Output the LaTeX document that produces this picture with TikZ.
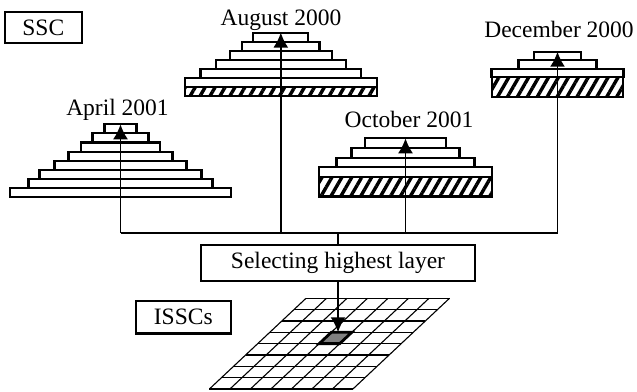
\documentclass[tikz,border=0pt]{standalone}
\usepackage{fontspec}
\setmainfont{Liberation Serif}
\usepackage{tikz}
\usetikzlibrary{arrows.meta,patterns.meta}
\tikzstyle{box} = [rectangle, draw, line width=1.1pt, inner sep=0pt, font=\fontsize{11.75}{14}\selectfont]
\tikzstyle{date} = [inner sep=0pt, anchor=base, font=\fontsize{11.75}{14}\selectfont]
\tikzstyle{layer} = [draw, line width=1.05pt]
\tikzstyle{hatch} = [layer, pattern={Lines[angle=60,distance=4.3pt,line width=1.7pt]}]
\tikzstyle{line} = [line width=0.95pt]
\tikzstyle{arrow} = [line, -{Latex[length=7.5pt,width=7.5pt]}]
\tikzstyle{grid} = [line width=0.55pt]

\begin{document}
\begin{tikzpicture}[x=0.5pt,y=-0.5pt]
\useasboundingbox (0,0) rectangle (637,391);

% boxes
\node[box, minimum width=38.3pt, minimum height=15.5pt] (ssc) at (43.3,27.8) {SSC};
\node[box, minimum width=47.7pt, minimum height=16.2pt] (isscs) at (183.3,317.2) {ISSCs};
\node[box, minimum width=137pt, minimum height=17.8pt] (select) at (338,263) {Selecting highest layer};

% pyramids
\foreach \w [count=\i from 0] in {16,28,39.3,52,66,81,92,110.5}
  \draw[layer] (120.5-\w,124.3+\i*9.1) rectangle (120.5+\w,133.4+\i*9.1);
\foreach \w [count=\i from 0] in {27.5,38.7,50.8,64.8,80.3,95.8}
  \draw[layer] (280.8-\w,32.6+\i*9.1) rectangle (280.8+\w,41.7+\i*9.1);
\draw[hatch] (185,87.2) rectangle (376.6,96);
\foreach \w [count=\i from 0] in {40.8,54,69,86.2}
  \draw[layer] (405.5-\w,138.3+\i*9.7) rectangle (405.5+\w,148+\i*9.7);
\draw[hatch] (319.3,177.1) rectangle (491.7,196.5);
\foreach \w [count=\i from 0] in {23.7,39,66}
  \draw[layer] (557.5-\w,51.7+\i*8.5) rectangle (557.5+\w,60.2+\i*8.5);
\draw[hatch] (492,77.2) rectangle (623,97);

\coordinate (apr) at (120.5,124.3);
\coordinate (aug) at (280.8,32.6);
\coordinate (oct) at (405.5,138.3);
\coordinate (dec) at (557.5,51.7);

\node[date] (aprdate) at (117.5,115.5) {April 2001};
\node[date] (augdate) at (281,25.3) {August 2000};
\node[date] (octdate) at (409,127) {October 2001};
\node[date] (decdate) at (559,37) {December 2000};

% grid of ISSCs
\foreach \r in {0,...,8}
  \draw[grid] ({306-1.065*\r*11.34},{298.3+\r*11.34}) -- ++(143.5,0);
\foreach \c in {0,...,7}
  \draw[grid] ({306+\c*20.5},298.3) -- ++(-96.6,90.7);
\draw[line width=1.4pt, fill=black!50] (331.3,332.3) -- ++(20.5,0) -- ++(-12.08,11.34) -- ++(-20.5,0) -- cycle;
\coordinate (cell) at (341.5,332.3);

% connectors
\coordinate (bus) at (338,233.3);
\draw[line] (apr |- bus) -- (dec |- bus);
\foreach \p in {apr,aug,oct,dec}
  \draw[arrow] (\p |- bus) -- (\p);
\draw[line] (bus) -- (select.north);
\draw[arrow] (select.south) -- (select.south |- cell);
\end{tikzpicture}
\end{document}
